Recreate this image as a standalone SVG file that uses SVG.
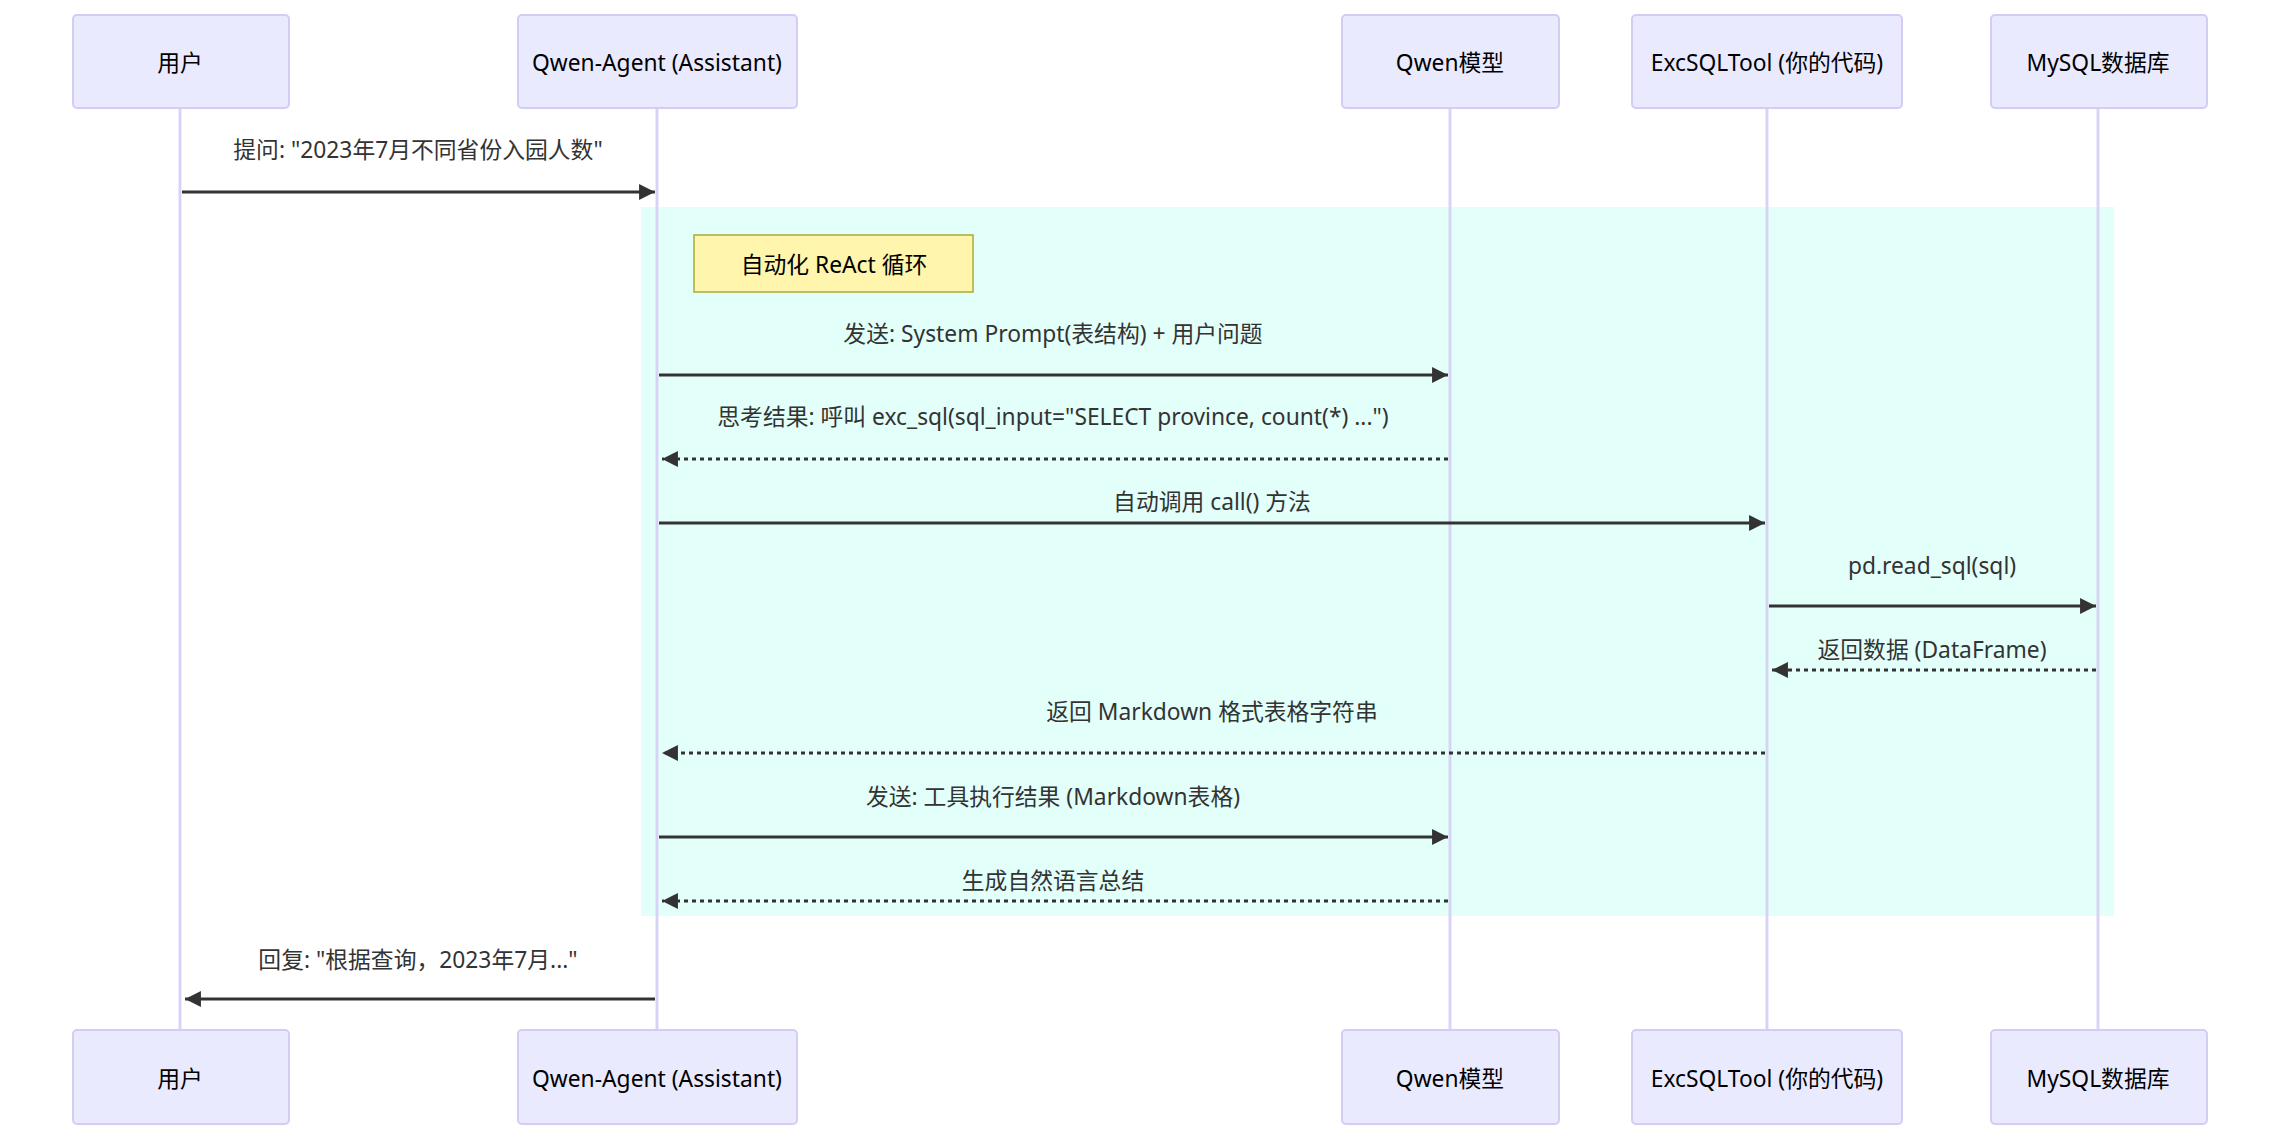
<svg xmlns="http://www.w3.org/2000/svg" width="2280" height="1138" viewBox="0 0 2280 1138">
<style>
.actor{fill:#eaeaff;stroke:#d4ccf5;stroke-width:2}
.life{stroke:#d9d2f7;stroke-width:2.9}
.t{font-family:"Noto Sans","Noto Sans CJK SC",sans-serif;font-size:22.8px;fill:#333;text-anchor:middle}
.at{font-family:"Noto Sans","Noto Sans CJK SC",sans-serif;font-size:22.8px;fill:#000;text-anchor:middle;dominant-baseline:central}
.m{stroke:#333;stroke-width:2.9;fill:none}
.d{stroke-dasharray:4,4}
</style>
<defs>
<marker id="ah" viewBox="0 0 10 10" refX="10" refY="5" markerWidth="5.5" markerHeight="5.5" orient="auto-start-reverse" markerUnits="strokeWidth"><path d="M0,0L10,5L0,10z" fill="#333"/></marker>
</defs>
<rect width="2280" height="1138" fill="#fff"/>
<rect x="641" y="207" width="1473" height="709" fill="#e0fff9" opacity="0.9"/>
<g id="lifelines">
<line class="life" x1="180" y1="108" x2="180" y2="1030"/>
<line class="life" x1="657" y1="108" x2="657" y2="1030"/>
<line class="life" x1="1450" y1="108" x2="1450" y2="1030"/>
<line class="life" x1="1767" y1="108" x2="1767" y2="1030"/>
<line class="life" x1="2098" y1="108" x2="2098" y2="1030"/>
</g>
<g id="a-user"><rect class="actor" x="73" y="15" width="216" height="93" rx="4"/><text class="at" x="180" y="62">用户</text></g>
<g id="a-agent"><rect class="actor" x="518" y="15" width="279" height="93" rx="4"/><text class="at" x="657" y="62">Qwen-Agent (Assistant)</text></g>
<g id="a-model"><rect class="actor" x="1342" y="15" width="217" height="93" rx="4"/><text class="at" x="1450" y="62">Qwen模型</text></g>
<g id="a-tool"><rect class="actor" x="1632" y="15" width="270" height="93" rx="4"/><text class="at" x="1767" y="62">ExcSQLTool (你的代码)</text></g>
<g id="a-db"><rect class="actor" x="1991" y="15" width="216" height="93" rx="4"/><text class="at" x="2098" y="62">MySQL数据库</text></g>
<g id="b-user"><rect class="actor" x="73" y="1030" width="216" height="94" rx="4"/><text class="at" x="180" y="1078">用户</text></g>
<g id="b-agent"><rect class="actor" x="518" y="1030" width="279" height="94" rx="4"/><text class="at" x="657" y="1078">Qwen-Agent (Assistant)</text></g>
<g id="b-model"><rect class="actor" x="1342" y="1030" width="217" height="94" rx="4"/><text class="at" x="1450" y="1078">Qwen模型</text></g>
<g id="b-tool"><rect class="actor" x="1632" y="1030" width="270" height="94" rx="4"/><text class="at" x="1767" y="1078">ExcSQLTool (你的代码)</text></g>
<g id="b-db"><rect class="actor" x="1991" y="1030" width="216" height="94" rx="4"/><text class="at" x="2098" y="1078">MySQL数据库</text></g>
<g id="note"><rect x="694" y="235" width="279" height="57" fill="#fff5ad" stroke="#aaaa33" stroke-width="1.5"/><text class="at" x="834" y="264">自动化 ReAct 循环</text></g>
<g id="connectors">
<line class="m" x1="182" y1="192" x2="655" y2="192" marker-end="url(#ah)"/>
<line class="m" x1="659" y1="375" x2="1448" y2="375" marker-end="url(#ah)"/>
<line class="m d" x1="1448" y1="459" x2="662" y2="459" marker-end="url(#ah)"/>
<line class="m" x1="659" y1="523" x2="1765" y2="523" marker-end="url(#ah)"/>
<line class="m" x1="1769" y1="606" x2="2096" y2="606" marker-end="url(#ah)"/>
<line class="m d" x1="2096" y1="670" x2="1772" y2="670" marker-end="url(#ah)"/>
<line class="m d" x1="1765" y1="753" x2="662" y2="753" marker-end="url(#ah)"/>
<line class="m" x1="659" y1="837" x2="1448" y2="837" marker-end="url(#ah)"/>
<line class="m d" x1="1448" y1="901" x2="662" y2="901" marker-end="url(#ah)"/>
<line class="m" x1="655" y1="999" x2="185" y2="999" marker-end="url(#ah)"/>
</g>
<g id="labels">
<text class="t" x="418" y="158">提问: "2023年7月不同省份入园人数"</text>
<text class="t" x="1053" y="342">发送: System Prompt(表结构) + 用户问题</text>
<text class="t" x="1053" y="425">思考结果: 呼叫 exc_sql(sql_input="SELECT province, count(*) ...")</text>
<text class="t" x="1212" y="510">自动调用 call() 方法</text>
<text class="t" x="1932" y="574">pd.read_sql(sql)</text>
<text class="t" x="1932" y="658">返回数据 (DataFrame)</text>
<text class="t" x="1212" y="720">返回 Markdown 格式表格字符串</text>
<text class="t" x="1053" y="805">发送: 工具执行结果 (Markdown表格)</text>
<text class="t" x="1053" y="889">生成自然语言总结</text>
<text class="t" x="418" y="968">回复: "根据查询，2023年7月..."</text>
</g>
</svg>
